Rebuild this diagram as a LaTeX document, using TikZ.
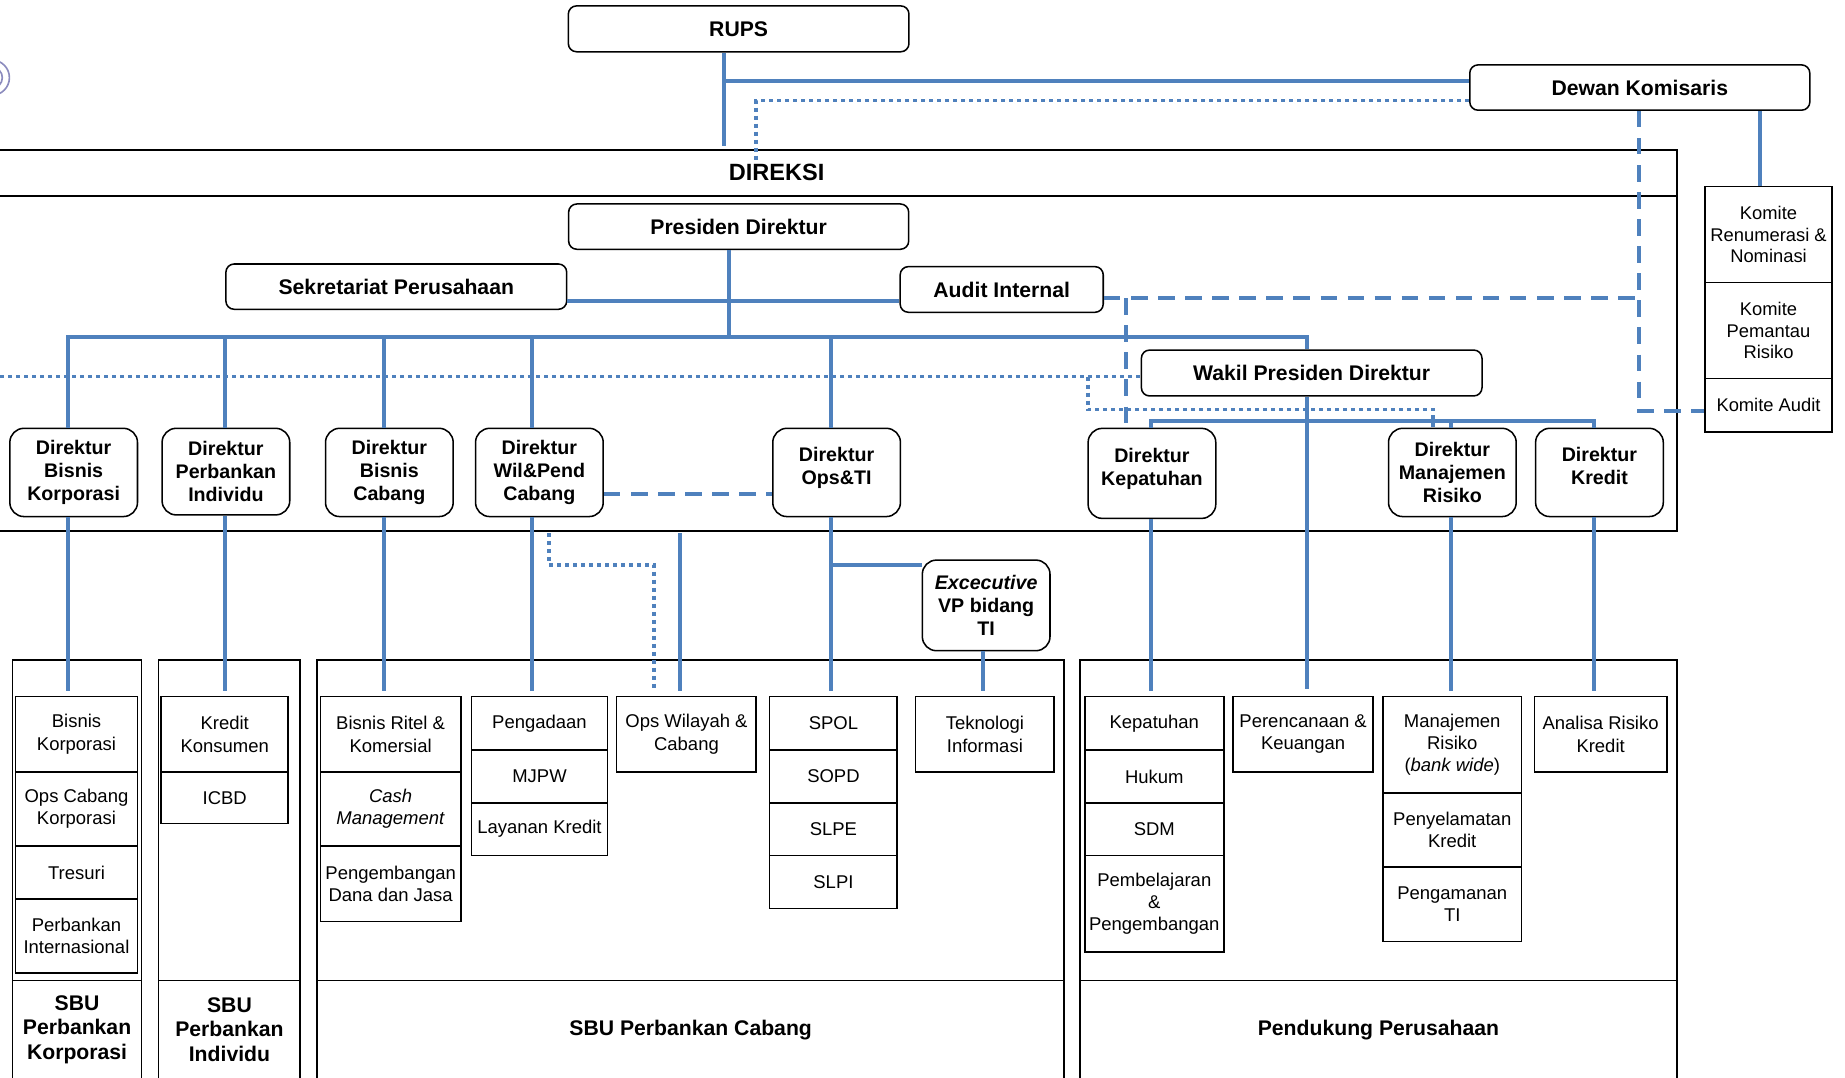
\documentclass[tikz,border=0pt]{standalone}
\usepackage{fontspec}
\setmainfont{Liberation Sans}
\definecolor{orgblue}{RGB}{79,129,189}
\definecolor{logogrey}{RGB}{140,140,190}

\begin{document}
\begin{tikzpicture}[x=1pt, y=-1pt, every node/.style={font=\normalfont}]
    % Define styles
    \tikzstyle{topbox} = [rectangle, rounded corners=7pt, draw=black, line width=1.3pt, fill=white, inner sep=0pt, minimum width=289pt, minimum height=38.5pt, text centered, font=\fontsize{18}{21}\selectfont\bfseries]
    \tikzstyle{dirbox} = [rectangle, rounded corners=12pt, draw=black, line width=1.3pt, fill=white, inner sep=0pt, minimum width=108.5pt, minimum height=75pt, align=center, font=\fontsize{16.7}{19.8}\selectfont\bfseries]
    \tikzstyle{dirbox2} = [dirbox, text depth=11.5pt]
    \tikzstyle{unitbox} = [rectangle, draw=black, line width=1.4pt, inner sep=0pt, align=center, font=\fontsize{15.7}{19}\selectfont]
    \tikzstyle{komitebox} = [unitbox, minimum width=108pt, font=\fontsize{15.6}{18}\selectfont]
    \tikzstyle{frame} = [draw=black, line width=1.4pt]
    \tikzstyle{sbulabel} = [align=center, font=\fontsize{18}{21}\selectfont\bfseries]
    \tikzstyle{link} = [draw=orgblue, line width=3.4pt]
    \tikzstyle{dashlink} = [draw=orgblue, line width=3.4pt, dash pattern=on 14pt off 9pt]
    \tikzstyle{dotlink} = [draw=orgblue, line width=3pt, dash pattern=on 3.4pt off 3.4pt]

    \clip (0,0) rectangle (1568,916);

    % Logo (cut off)
    \draw[logogrey, line width=1.4pt] (-7,66) circle (15pt);
    \draw[logogrey, line width=1.4pt] (-7,66) circle (9pt);

    % Board level
    \node (rups) [topbox, minimum width=289.5pt, minimum height=39pt] at (627.75,24.5) {RUPS};
    \node (dewan) [topbox] at (1393.6,74.4) {Dewan Komisaris};

    % Komite
    \node (komrem) [komitebox, minimum height=81.4pt] at (1503,199.3) {Komite\\Renumerasi \&\\Nominasi};
    \node (kompr) [komitebox, minimum height=81.8pt] at (1503,280.9) {Komite\\Pemantau\\Risiko};
    \node (komaudit) [komitebox, minimum height=45.2pt] at (1503,344.4) {Komite Audit};

    % DIREKSI frame
    \draw[frame] (-10,127.5) rectangle (1425.4,451);
    \draw[frame] (-10,166.3) -- (1425.4,166.3);
    \node (direksi) [font=\fontsize{20}{24}\selectfont\bfseries] at (660,146.8) {DIREKSI};

    \node (presdir) [topbox] at (627.75,192.6) {Presiden Direktur};
    \node (sekper) [topbox, minimum width=289.6pt] at (336.8,243.6) {Sekretariat Perusahaan};
    \node (audit) [topbox, minimum width=172.6pt, minimum height=38.8pt] at (851.3,246) {Audit Internal};
    \node (wapresdir) [topbox, minimum width=289.5pt, minimum height=39pt] at (1114.75,317) {Wakil Presiden Direktur};

    % Directors
    \node (dirbk) [dirbox] at (62.6,401.5) {Direktur\\Bisnis\\Korporasi};
    \node (dirpi) [dirbox, minimum height=73.6pt] at (192,400.8) {Direktur\\Perbankan\\Individu};
    \node (dirbc) [dirbox] at (330.9,401.5) {Direktur\\Bisnis\\Cabang};
    \node (dirwp) [dirbox] at (458.4,401.5) {Direktur\\Wil\&Pend\\Cabang};
    \node (dirops) [dirbox2] at (711,401.5) {Direktur\\Ops\&TI};
    \node (dirkep) [dirbox2, minimum height=76.5pt] at (979,402.3) {Direktur\\Kepatuhan};
    \node (dirmr) [dirbox] at (1234.3,401.5) {Direktur\\Manajemen\\Risiko};
    \node (dirkr) [dirbox2] at (1359.3,401.5) {Direktur\\Kredit};
    \node (evpti) [dirbox, minimum height=77pt] at (838.1,514.5) {\textit{Excecutive}\\VP bidang\\TI};

    % SBU frames
    \draw[frame] (10.7,561) rectangle (120.4,930);
    \draw[frame] (10.7,833.4) -- (120.4,833.4);
    \draw[frame] (134.7,561) rectangle (255.2,930);
    \draw[frame] (134.7,833.4) -- (255.2,833.4);
    \draw[frame] (269.5,561) rectangle (904.5,930);
    \draw[frame] (269.5,833.4) -- (904.5,833.4);
    \draw[frame] (917.8,561) rectangle (1425.4,930);
    \draw[frame] (917.8,833.4) -- (1425.4,833.4);
    \node (sbukorp) [sbulabel] at (65.5,875) {SBU\\Perbankan\\Korporasi};
    \node (sbuind) [sbulabel] at (195,875) {SBU\\Perbankan\\Individu};
    \node (sbucab) [sbulabel] at (587,875) {SBU Perbankan Cabang};
    \node (pendukung) [sbulabel] at (1171.5,875) {Pendukung Perusahaan};

    % SBU Perbankan Korporasi
    \node (bisnkorp) [unitbox, minimum width=103.8pt, minimum height=64pt] at (65,624) {Bisnis\\Korporasi};
    \node (opskorp) [unitbox, minimum width=103.8pt, minimum height=63pt] at (65,687.5) {Ops Cabang\\Korporasi};
    \node (tresuri) [unitbox, minimum width=103.8pt, minimum height=45pt] at (65,741.5) {Tresuri};
    \node (intl) [unitbox, minimum width=103.8pt, minimum height=63pt] at (65,795.5) {Perbankan\\Internasional};

    % SBU Perbankan Individu
    \node (kredkons) [unitbox, minimum width=108pt, minimum height=64pt] at (191,624) {Kredit\\Konsumen};
    \node (icbd) [unitbox, minimum width=108pt, minimum height=44pt] at (191,678) {ICBD};

    % SBU Perbankan Cabang
    \node (ritel) [unitbox, minimum width=119.3pt, minimum height=64pt] at (332,624) {Bisnis Ritel \&\\Komersial};
    \node (cashman) [unitbox, minimum width=119.3pt, minimum height=63pt] at (332,687.5) {\textit{Cash}\\\textit{Management}};
    \node (danajasa) [unitbox, minimum width=119.3pt, minimum height=64pt] at (332,751) {Pengembangan\\Dana dan Jasa};
    \node (pengadaan) [unitbox, minimum width=115.7pt, minimum height=45.4pt] at (458.5,614.7) {Pengadaan};
    \node (mjpw) [unitbox, minimum width=115.7pt, minimum height=45pt] at (458.5,659.9) {MJPW};
    \node (layanan) [unitbox, minimum width=115.7pt, minimum height=44.6pt] at (458.5,704.7) {Layanan Kredit};
    \node (opswil) [unitbox, minimum width=118.7pt, minimum height=64pt] at (583.4,624) {Ops Wilayah \&\\Cabang};
    \node (spol) [unitbox, minimum width=108.5pt, minimum height=45.4pt] at (708.3,614.7) {SPOL};
    \node (sopd) [unitbox, minimum width=108.5pt, minimum height=45pt] at (708.3,659.9) {SOPD};
    \node (slpe) [unitbox, minimum width=108.5pt, minimum height=44.6pt] at (708.3,704.7) {SLPE};
    \node (slpi) [unitbox, minimum width=108.5pt, minimum height=45pt] at (708.3,749.5) {SLPI};
    \node (tekinf) [unitbox, minimum width=118pt, minimum height=64pt] at (837,624) {Teknologi\\Informasi};

    % Pendukung Perusahaan
    \node (kepatuhan) [unitbox, minimum width=118pt, minimum height=45.4pt] at (981,614.7) {Kepatuhan};
    \node (hukum) [unitbox, minimum width=118pt, minimum height=45pt] at (981,659.9) {Hukum};
    \node (sdm) [unitbox, minimum width=118pt, minimum height=44.6pt] at (981,704.7) {SDM};
    \node (pembelajaran) [unitbox, minimum width=118pt, minimum height=82pt] at (981,768) {Pembelajaran\\\&\\Pengembangan};
    \node (perenc) [unitbox, minimum width=119pt, minimum height=64pt] at (1107.5,624) {Perencanaan \&\\Keuangan};
    \node (manrisk) [unitbox, minimum width=117.6pt, minimum height=82pt] at (1234.2,633) {Manajemen\\Risiko\\(\textit{bank wide})};
    \node (penyelamatan) [unitbox, minimum width=117.6pt, minimum height=63pt] at (1234.2,705.5) {Penyelamatan\\Kredit};
    \node (pengamanan) [unitbox, minimum width=117.6pt, minimum height=63pt] at (1234.2,768.5) {Pengamanan\\TI};
    \node (analisa) [unitbox, minimum width=112.7pt, minimum height=64pt] at (1360.3,624) {Analisa Risiko\\Kredit};

    % Junction points
    \coordinate (rupsfoot) at (615,124);
    \coordinate (rupsdewan) at (615,68.8);
    \coordinate (dotdewan) at (642.3,85.6);
    \coordinate (dotdireksi) at (642.3,137.4);
    \coordinate (pdbus) at (619.6,286);
    \coordinate (sekaudit) at (619.6,255.5);
    \coordinate (xbk) at (58.2,286);
    \coordinate (xpi) at (191,286);
    \coordinate (xbc) at (326.5,286);
    \coordinate (xwp) at (451.7,286);
    \coordinate (xops) at (706.2,286);
    \coordinate (xwk) at (1110.7,286);
    \coordinate (auditdash) at (1393,253.5);
    \coordinate (kepdash) at (957,253.5);
    \coordinate (komdash) at (1393,349);
    \coordinate (komline) at (1495.7,100);
    \coordinate (dotleft) at (0,320);
    \coordinate (dotbr1) at (924.6,320);
    \coordinate (dotbr2) at (924.6,348);
    \coordinate (dotbr3) at (1218,348);
    \coordinate (xkep) at (978,357.5);
    \coordinate (xmr) at (1233.5,357.5);
    \coordinate (xkr) at (1355,357.5);
    \coordinate (wpops) at (0,420);
    \coordinate (wpdot1) at (466.5,453);
    \coordinate (wpdot2) at (466.5,480);
    \coordinate (wpdot3) at (556,480);
    \coordinate (opsfoot) at (578,453);
    \coordinate (opsevp) at (706.2,480);
    \coordinate (xevp) at (835,560);

    % Board connections
    \draw[link] (rupsfoot |- rups.south) -- (rupsfoot);
    \draw[link] (rupsdewan) -- (rupsdewan -| dewan.west);
    \draw[dotlink] (dotdewan -| dewan.west) -- (dotdewan) -- (dotdireksi);
    \draw[link] (komline |- dewan.south) -- (komline |- komrem.north);
    \draw[dashlink] (komdash |- dewan.south) -- (komdash) -- (komdash -| komaudit.west);
    \draw[dashlink] (auditdash -| audit.east) -- (auditdash);
    \draw[dashlink] (kepdash) -- (kepdash |- dirkep.north);

    % Presiden Direktur to directors
    \draw[link] (pdbus |- presdir.south) -- (pdbus);
    \draw[link] (sekaudit -| sekper.east) -- (sekaudit -| audit.west);
    \draw[link] (xbk |- dirbk.north) -- (xbk) -- (xwk) -- (xwk |- wapresdir.north);
    \foreach \c/\d in {xpi/dirpi, xbc/dirbc, xwp/dirwp, xops/dirops}
        \draw[link] (\c) -- (\c |- \d.north);

    % Wakil Presiden Direktur to directors
    \draw[dotlink] (dotleft) -- (dotleft -| wapresdir.west);
    \draw[dotlink] (dotbr1) -- (dotbr2) -- (dotbr3) -- (dotbr3 |- dirmr.north);
    \draw[link] (xkep |- dirkep.north) -- (xkep) -- (xkr) -- (xkr |- dirkr.north);
    \draw[link] (xmr) -- (xmr |- dirmr.north);
    \draw[link, shorten >=6pt] (xwk |- wapresdir.south) -- (xwk |- perenc.north);

    % Directors to units
    \foreach \c/\d/\u in {xbk/dirbk/bisnkorp, xpi/dirpi/kredkons, xbc/dirbc/ritel, xwp/dirwp/pengadaan, xops/dirops/spol, xkep/dirkep/kepatuhan, xmr/dirmr/manrisk, xkr/dirkr/analisa}
        \draw[link, shorten >=4pt] (\c |- \d.south) -- (\c |- \u.north);
    \draw[dashlink] (wpops -| dirwp.east) -- (wpops -| dirops.west);
    \draw[dotlink, shorten >=4pt] (wpdot1) -- (wpdot2) -- (wpdot3) -- (wpdot3 |- opswil.north);
    \draw[link, shorten >=4pt] (opsfoot) -- (opsfoot |- opswil.north);
    \draw[link] (opsevp) -- (opsevp -| evpti.west);
    \draw[link, shorten >=4pt] (xevp |- evpti.south) -- (xevp |- tekinf.north);
\end{tikzpicture}
\end{document}
